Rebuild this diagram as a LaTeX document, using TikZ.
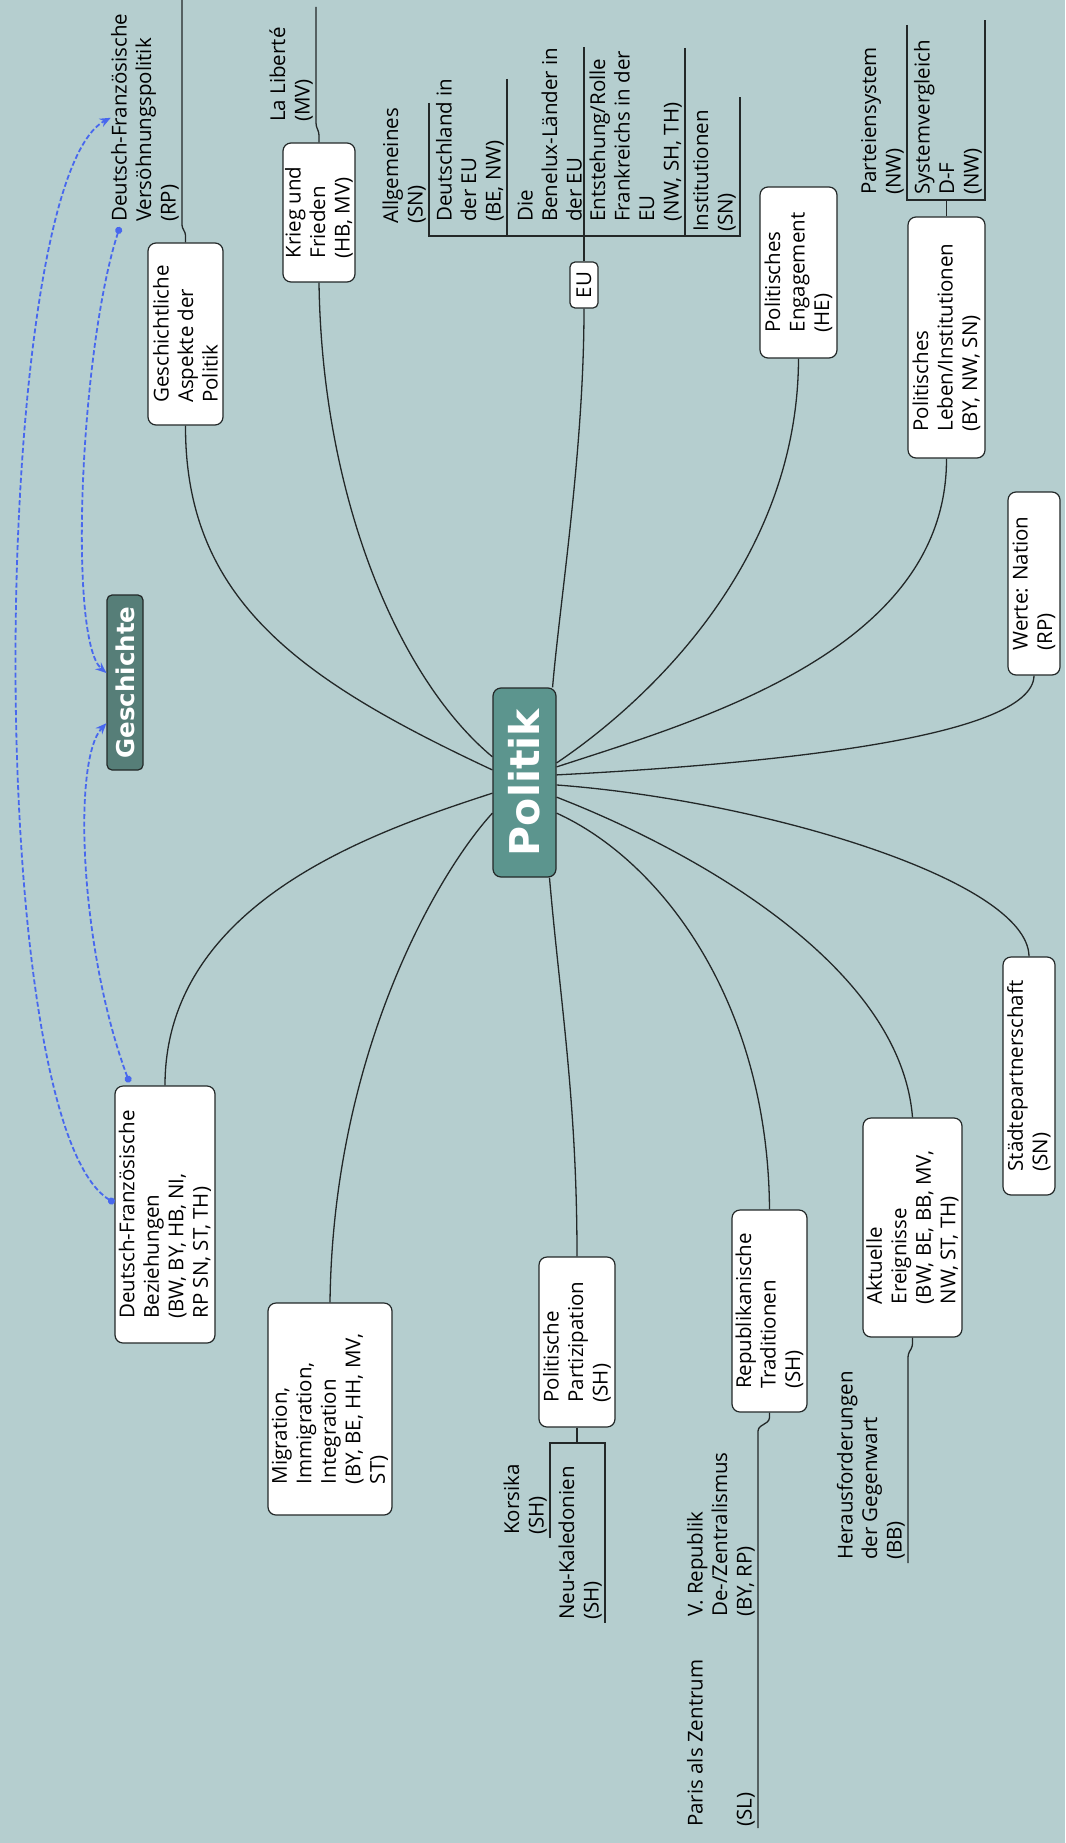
\documentclass[tikz,border=0pt]{standalone}
\usepackage{fontspec}
\setmainfont{Open Sans}
\newfontfamily\titlefont{DejaVu Sans}
\usetikzlibrary{arrows.meta,calc}
\definecolor{bgc}{RGB}{181,206,207}
\definecolor{maincol}{RGB}{92,149,142}
\definecolor{histcol}{RGB}{86,126,120}
\definecolor{edgec}{RGB}{35,40,40}
\definecolor{relc}{RGB}{72,104,238}
\begin{document}
\begin{tikzpicture}[x=1pt,y=-1pt,
  txt/.style={font=\fontsize{20.5}{24.5}\selectfont, align=left},
  topic/.style={txt, rotate=90, draw=edgec, line width=1.2pt, fill=white, rounded corners=8pt, inner sep=2pt},
  ttl/.style={topic, text=white, font=\titlefont\bfseries\fontsize{#1}{#1}\selectfont},
  lbl/.style={txt, rotate=90, inner sep=0pt, anchor=south west},
  conn/.style={draw=edgec, line width=1.3pt},
  subline/.style={conn, rounded corners=3pt},
  rel/.style={draw=relc, line width=1.8pt, dash pattern=on 5pt off 2.5pt},
  reltip/.style={arrows={Circle[length=7pt]-Stealth[length=11pt,width=9pt]}},
]
\fill[bgc] (0,0) rectangle (1065,1843);
\useasboundingbox (0,0) rectangle (1065,1843);

% central and history nodes
\node[ttl=41, fill=maincol, minimum width=189pt, minimum height=63pt] (politik) at (524.5,782.5) {Politik};
\node[ttl=24.5, fill=histcol, minimum width=175pt, minimum height=36pt, rounded corners=5pt] (geschichte) at (125,682.5) {Geschichte};

% main topics
\node[topic, minimum width=182pt, minimum height=75pt] (gasp) at (185.5,334) {Geschichtliche\\Aspekte der\\Politik};
\node[topic, minimum width=139pt, minimum height=72pt] (krieg) at (319,212.5) {Krieg und\\Frieden\\(HB, MV)};
\node[topic, minimum width=46pt, minimum height=28pt, rounded corners=5pt] (eu) at (584,285) {EU};
\node[topic, minimum width=171pt, minimum height=77pt] (engag) at (798.5,272.5) {Politisches\\Engagement\\(HE)};
\node[topic, minimum width=241pt, minimum height=77pt] (leben) at (946.5,337.5) {Politisches\\Leben/Institutionen\\(BY, NW, SN)};
\node[topic, minimum width=183pt, minimum height=52pt] (werte) at (1034,583.5) {Werte: Nation\\(RP)};
\node[topic, minimum width=238pt, minimum height=52pt] (staedte) at (1029,1076) {Städtepartnerschaft\\(SN)};
\node[topic, minimum width=219pt, minimum height=99pt] (aktuell) at (912.5,1227.5) {Aktuelle\\Ereignisse\\(BW, BE, BB, MV,\\NW, ST, TH)};
\node[topic, minimum width=202pt, minimum height=75pt] (repub) at (769.5,1311) {Republikanische\\Traditionen\\(SH)};
\node[topic, minimum width=170pt, minimum height=76pt] (partiz) at (577,1342) {Politische\\Partizipation\\(SH)};
\node[topic, minimum width=212pt, minimum height=124pt] (migr) at (330,1409) {Migration,\\Immigration,\\Integration\\(BY, BE, HH, MV,\\ST)};
\node[topic, minimum width=257pt, minimum height=100pt] (dfbez) at (165,1214.5) {Deutsch-Französische\\Beziehungen\\(BW, BY, HB, NI,\\RP SN, ST, TH)};

% sub-topic labels
\node[lbl] (versoehn) at (179,222) {Deutsch-Französische\\Versöhnungspolitik\\(RP)};
\node[lbl] (liberte) at (313,122) {La Liberté\\(MV)};
\node[lbl] (allg) at (426,224) {Allgemeines\\(SN)};
\node[lbl] (deutschl) at (504,222) {Deutschland in\\der EU\\(BE, NW)};
\node[lbl] (benelux) at (582,222) {Die\\Benelux-Länder in\\der EU};
\node[lbl] (entsteh) at (682,222) {Entstehung/Rolle\\Frankreichs in der\\EU\\(NW, SH, TH)};
\node[lbl] (instit) at (736,232) {Institutionen\\(SN)};
\node[lbl] (partei) at (904,195) {Parteiensystem\\(NW)};
\node[lbl] (systemv) at (982,195) {Systemvergleich\\D-F\\(NW)};
\node[lbl] (korsika) at (547,1535) {Korsika\\(SH)};
\node[lbl] (neukal) at (602,1620) {Neu-Kaledonien\\(SH)};
\node[lbl] (vrep) at (755,1617) {V. Republik\\De-/Zentralismus\\(BY, RP)};
\node[lbl] (paris) at (755,1827) {Paris als Zentrum\\\mbox{}\\(SL)};
\node[lbl] (herausf) at (905,1560) {Herausforderungen\\der Gegenwart\\(BB)};

% attachment points on the central node
\coordinate (pkrieg) at ($(politik.north east)!0.365!(politik.north west)$);
\coordinate (pgasp) at ($(politik.north east)!0.434!(politik.north west)$);
\coordinate (pdf) at ($(politik.north east)!0.556!(politik.north west)$);
\coordinate (pmigr) at ($(politik.north east)!0.661!(politik.north west)$);
\coordinate (pengag) at ($(politik.south east)!0.397!(politik.south west)$);
\coordinate (pleben) at ($(politik.south east)!0.418!(politik.south west)$);
\coordinate (pwerte) at ($(politik.south east)!0.46!(politik.south west)$);
\coordinate (pstaedte) at ($(politik.south east)!0.513!(politik.south west)$);
\coordinate (paktuell) at ($(politik.south east)!0.577!(politik.south west)$);
\coordinate (prepub) at ($(politik.south east)!0.661!(politik.south west)$);
\coordinate (ppartiz) at ($(politik.north west)!0.889!(politik.south west)$);
\coordinate (peu) at ($(politik.north east)!0.937!(politik.south east)$);

% main connectors
\draw[conn] (krieg.west) .. controls (322,500) and (400,680) .. (pkrieg);
\draw[conn] (gasp.west) .. controls (185,600) and (300,680) .. (pgasp);
\draw[conn] (dfbez.east) .. controls (165,900) and (380,830) .. (pdf);
\draw[conn] (migr.east) .. controls (333,1050) and (440,870) .. (pmigr);
\draw[conn] (partiz.east) .. controls (577,1100) and (560,1000) .. (ppartiz);
\draw[conn] (eu.west) .. controls (584,450) and (560,600) .. (peu);
\draw[conn] (engag.west) .. controls (798,560) and (650,700) .. (pengag);
\draw[conn] (leben.west) .. controls (947,650) and (700,720) .. (pleben);
\draw[conn] (werte.west) .. controls (1033,740) and (750,765) .. (pwerte);
\draw[conn] (staedte.east) .. controls (1028,880) and (760,800) .. (pstaedte);
\draw[conn] (aktuell.east) .. controls (900,960) and (680,845) .. (paktuell);
\draw[conn] (repub.east) .. controls (768,1000) and (660,860) .. (prepub);

% sub-branch lines
\coordinate (vtop) at (182,0);
\draw[subline] (gasp.east) -- ++(0,-10) -- (182,228) -- (vtop);
\coordinate (ltop) at (316,7);
\draw[subline] (krieg.east) -- ++(0,-10) -- (316,126) -- (ltop);

\coordinate (euspL) at (429,236);
\coordinate (euspR) at (740,236);
\coordinate (allgtop) at (429,103);
\coordinate (dtop) at (507,79);
\coordinate (btop) at (584,47);
\coordinate (etop) at (685,48);
\coordinate (itop) at (740,97);
\draw[conn] (eu.east) -- (btop);
\draw[conn] (allgtop) -- (euspL) -- (euspR) -- (itop);
\draw[conn] (dtop) -- (dtop |- euspL);
\draw[conn] (etop) -- (etop |- euspL);

\coordinate (lspL) at (907,200);
\coordinate (lspR) at (985,200);
\coordinate (ptop) at (907,25);
\coordinate (stop) at (985,20);
\draw[conn] (leben.east) -- (leben.east |- lspL);
\draw[conn] (ptop) -- (lspL) -- (lspR) -- (stop);

\coordinate (kspL) at (550,1443);
\coordinate (kspR) at (605,1443);
\coordinate (kbot) at (550,1538);
\coordinate (nbot) at (605,1623);
\draw[conn] (partiz.west) -- (partiz.west |- kspL);
\draw[conn] (kbot) -- (kspL) -- (kspR) -- (nbot);

\coordinate (rbot) at (758,1828);
\draw[subline] (repub.west) -- ++(0,8) -- (758,1428) -- (rbot);
\coordinate (abot) at (908,1563);
\draw[subline] (aktuell.west) -- ++(0,9) -- (908,1354) -- (abot);

% relationships
\draw[rel, reltip] ($(versoehn.north west)+(9,5)$) .. controls (80,350) and (68,640) .. ($(geschichte.north east)!0.446!(geschichte.north west)$);
\draw[rel, reltip] ($(dfbez.north east)+(15,-3)$) .. controls (80,950) and (72,760) .. ($(geschichte.north east)!0.731!(geschichte.north west)$);
\draw[rel, reltip] ($(dfbez.north east)!0.455!(dfbez.north west)$) .. controls (-20,1120) and (-10,180) .. ($(versoehn.north west)!0.5!(versoehn.north east)$);
\end{tikzpicture}
\end{document}
